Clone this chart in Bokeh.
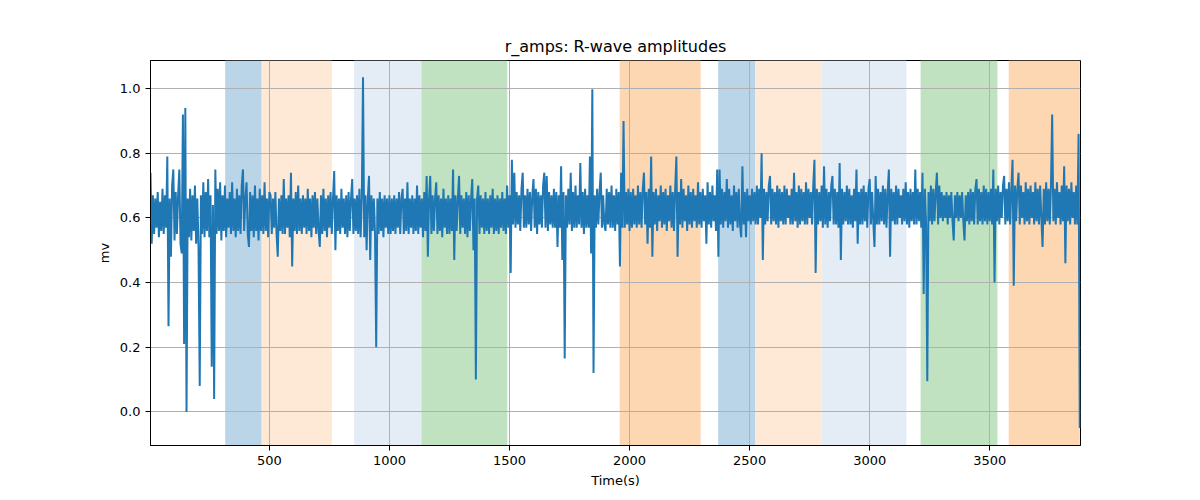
from bokeh.plotting import figure
from bokeh.models import Range1d, FixedTicker, NumeralTickFormatter, BoxAnnotation
from bokeh.embed import file_html
from bokeh.resources import INLINE
import numpy as np

# ---- data ----
t_start = 5
sample_step = 5

amps_0000 = [
0.74,0.52,0.67,0.55,0.66,0.57,0.68,0.54,0.65,0.56,
0.69,0.55,0.67,0.57,0.79,0.265,0.66,0.48,0.70,0.75,
0.53,0.68,0.55,0.67,0.75,0.52,0.49,0.92,0.21,0.94,
0.00,0.66,0.54,0.69,0.53,0.67,0.56,0.70,0.52,0.66,
0.51,0.08,0.67,0.55,0.71,0.54,0.68,0.56,0.72,0.54,
0.67,0.14,0.64,0.04,0.75,0.55,0.69,0.56,0.71,0.53,
0.67,0.56,0.70,0.54,0.66,0.57,0.68,0.55,0.71,0.56,
0.66,0.54,0.69,0.56,0.67,0.55,0.70,0.75,0.56,0.66,
0.71,0.55,0.51,0.68,0.56,0.67,0.54,0.70,0.56,0.66,
0.53,0.69,0.56,0.67,0.55,0.71,0.56,0.66,0.54,0.68]

amps_0500 = [
0.67,0.55,0.66,0.57,0.68,0.55,0.48,0.66,0.56,0.67,
0.55,0.72,0.55,0.66,0.57,0.67,0.54,0.74,0.45,0.66,
0.56,0.68,0.55,0.70,0.56,0.66,0.55,0.67,0.57,0.66,
0.55,0.69,0.56,0.66,0.54,0.67,0.57,0.68,0.55,0.66,
0.56,0.51,0.67,0.55,0.69,0.56,0.66,0.54,0.67,0.57,
0.68,0.55,0.66,0.745,0.50,0.67,0.56,0.66,0.55,0.69,
0.57,0.66,0.55,0.67,0.54,0.68,0.56,0.66,0.72,0.55,
0.66,0.56,0.67,0.55,0.69,0.54,0.66,1.035,0.54,0.67,
0.50,0.66,0.73,0.47,0.67,0.56,0.66,0.55,0.20,0.66,
0.55,0.68,0.56,0.66,0.54,0.67,0.57,0.66,0.55,0.67]

amps_1000 = [
0.55,0.66,0.56,0.67,0.55,0.66,0.57,0.68,0.55,0.66,
0.69,0.55,0.66,0.56,0.71,0.55,0.66,0.57,0.67,0.55,
0.66,0.56,0.70,0.55,0.67,0.57,0.66,0.54,0.68,0.56,
0.73,0.48,0.66,0.73,0.55,0.67,0.56,0.66,0.71,0.55,
0.67,0.56,0.66,0.54,0.69,0.57,0.66,0.55,0.67,0.55,
0.66,0.56,0.75,0.47,0.67,0.56,0.66,0.73,0.55,0.67,
0.57,0.66,0.55,0.68,0.54,0.67,0.56,0.66,0.72,0.50,
0.66,0.10,0.66,0.70,0.55,0.67,0.57,0.66,0.55,0.68,
0.56,0.66,0.55,0.67,0.57,0.69,0.55,0.66,0.56,0.67,
0.55,0.66,0.57,0.68,0.56,0.66,0.55,0.70,0.57,0.67]

amps_1500 = [
0.43,0.78,0.58,0.74,0.57,0.68,0.58,0.67,0.56,0.69,
0.74,0.57,0.67,0.57,0.69,0.58,0.68,0.56,0.67,0.72,
0.57,0.69,0.55,0.68,0.58,0.67,0.57,0.70,0.74,0.57,
0.73,0.56,0.68,0.58,0.67,0.57,0.69,0.57,0.68,0.51,
0.67,0.57,0.76,0.47,0.68,0.165,0.67,0.57,0.69,0.58,
0.74,0.56,0.68,0.57,0.70,0.57,0.67,0.58,0.77,0.57,
0.68,0.55,0.69,0.57,0.67,0.57,0.79,0.49,0.998,0.12,
0.67,0.57,0.69,0.58,0.68,0.74,0.57,0.67,0.58,0.56,
0.69,0.58,0.68,0.57,0.70,0.57,0.67,0.56,0.69,0.58,
0.68,0.45,0.74,0.57,0.90,0.57,0.68,0.58,0.69,0.56]

amps_2000 = [
0.68,0.57,0.69,0.58,0.67,0.57,0.70,0.58,0.68,0.57,
0.69,0.74,0.58,0.68,0.52,0.69,0.57,0.79,0.48,0.68,
0.58,0.69,0.56,0.67,0.59,0.70,0.57,0.68,0.58,0.69,
0.56,0.67,0.59,0.70,0.57,0.68,0.56,0.69,0.79,0.48,
0.68,0.58,0.72,0.57,0.69,0.59,0.67,0.56,0.70,0.58,
0.68,0.57,0.69,0.59,0.67,0.57,0.71,0.58,0.68,0.57,
0.69,0.59,0.67,0.52,0.71,0.58,0.68,0.57,0.70,0.59,
0.67,0.56,0.75,0.48,0.75,0.58,0.69,0.57,0.68,0.59,
0.72,0.57,0.69,0.58,0.67,0.56,0.70,0.59,0.68,0.57,
0.69,0.58,0.54,0.76,0.58,0.68,0.54,0.69,0.59,0.67]

amps_2500 = [
0.58,0.69,0.59,0.68,0.58,0.70,0.58,0.69,0.60,0.80,
0.47,0.69,0.58,0.68,0.59,0.70,0.73,0.58,0.69,0.59,
0.68,0.58,0.70,0.57,0.69,0.59,0.68,0.58,0.70,0.58,
0.69,0.60,0.67,0.58,0.69,0.58,0.74,0.59,0.68,0.57,
0.70,0.58,0.69,0.59,0.68,0.58,0.71,0.58,0.69,0.60,
0.68,0.58,0.70,0.78,0.43,0.69,0.58,0.68,0.59,0.70,
0.57,0.76,0.58,0.69,0.57,0.68,0.59,0.70,0.73,0.58,
0.69,0.58,0.68,0.57,0.77,0.47,0.69,0.58,0.68,0.59,
0.70,0.58,0.69,0.58,0.67,0.57,0.69,0.59,0.75,0.52,
0.68,0.58,0.69,0.58,0.70,0.59,0.68,0.57,0.69,0.72]

amps_3000 = [
0.58,0.68,0.59,0.51,0.73,0.58,0.69,0.58,0.68,0.59,
0.70,0.58,0.69,0.57,0.68,0.75,0.48,0.69,0.59,0.68,
0.58,0.70,0.58,0.69,0.60,0.67,0.58,0.69,0.59,0.71,
0.58,0.68,0.57,0.69,0.59,0.68,0.58,0.75,0.58,0.69,
0.59,0.68,0.57,0.74,0.365,0.69,0.58,0.095,0.68,0.59,
0.70,0.58,0.69,0.59,0.68,0.74,0.58,0.70,0.60,0.68,
0.59,0.67,0.60,0.68,0.58,0.67,0.60,0.68,0.59,0.53,
0.67,0.60,0.68,0.59,0.67,0.60,0.68,0.59,0.53,0.67,
0.59,0.68,0.58,0.69,0.59,0.68,0.58,0.69,0.72,0.58,
0.69,0.59,0.68,0.58,0.70,0.59,0.69,0.58,0.68,0.59]

amps_3500 = [
0.69,0.58,0.75,0.40,0.69,0.59,0.70,0.58,0.68,0.60,
0.70,0.73,0.58,0.69,0.59,0.71,0.58,0.69,0.78,0.39,
0.70,0.59,0.69,0.74,0.58,0.70,0.60,0.68,0.58,0.71,
0.59,0.69,0.58,0.70,0.60,0.68,0.58,0.71,0.59,0.69,
0.58,0.70,0.60,0.51,0.69,0.58,0.71,0.59,0.69,0.58,
0.70,0.92,0.59,0.69,0.58,0.71,0.60,0.68,0.58,0.70,
0.59,0.76,0.46,0.70,0.59,0.69,0.58,0.71,0.60,0.68,
0.58,0.70,0.58,0.86,-0.05]

# shaded episodes (seconds) and their colours
span_starts = [316, 468, 853, 1133, 1959, 2369, 2524, 2800, 3212, 3579]
span_ends   = [468, 760, 1133, 1491, 2296, 2524, 2800, 3153, 3532, 3875]
span_colors = ["#bad5e8", "#fee9d6", "#e4ecf6", "#c0e2c0", "#fdd6b2",
               "#bad5e8", "#fee9d6", "#e4ecf6", "#c0e2c0", "#fdd6b2"]

x_ticks = [500, 1000, 1500, 2000, 2500, 3000, 3500]
y_ticks = [0.0, 0.2, 0.4, 0.6, 0.8, 1.0]

amps = amps_0000 + amps_0500 + amps_1000 + amps_1500 + amps_2000 + amps_2500 + amps_3000 + amps_3500
times = t_start + sample_step * np.arange(len(amps))

FONT = "DejaVu Sans"

p = figure(width=1200, height=500, output_backend="svg", toolbar_location=None,
           x_range=Range1d(5, 3878), y_range=Range1d(-0.104, 1.087),
           title="r_amps: R-wave amplitudes",
           x_axis_label="Time(s)", y_axis_label="mv",
           min_border_left=150, min_border_right=120,
           min_border_top=60, min_border_bottom=55)

p.background_fill_color = "white"
p.border_fill_color = "white"
p.outline_line_color = "black"
p.outline_line_alpha = 1
p.outline_line_width = 1

p.title.align = "center"
p.title.text_font = FONT
p.title.text_font_size = "16px"
p.title.text_font_style = "normal"
p.title.text_color = "black"

for ax in (p.xaxis[0], p.yaxis[0]):
    ax.axis_label_text_font = FONT
    ax.axis_label_text_font_size = "13px"
    ax.axis_label_text_font_style = "normal"
    ax.axis_label_text_color = "black"
    ax.major_label_text_font = FONT
    ax.major_label_text_font_size = "13px"
    ax.major_label_text_color = "black"
    ax.axis_line_color = "black"
    ax.major_tick_line_color = "black"
    ax.major_tick_out = 5
    ax.major_tick_in = 0
    ax.minor_tick_line_color = None

p.xaxis.ticker = FixedTicker(ticks=x_ticks)
p.yaxis.ticker = FixedTicker(ticks=y_ticks)
p.yaxis.formatter = NumeralTickFormatter(format="0.0")

p.grid.grid_line_color = "#b0b0b0"
p.grid.grid_line_width = 1
p.grid.grid_line_alpha = 1

for s, e, c in zip(span_starts, span_ends, span_colors):
    p.add_layout(BoxAnnotation(left=s, right=e, fill_color=c, fill_alpha=1,
                               line_color=None, level="image"))

p.line(times, amps, line_color="#1f77b4", line_width=2)

open("out.html", "w").write(file_html(p, INLINE))
